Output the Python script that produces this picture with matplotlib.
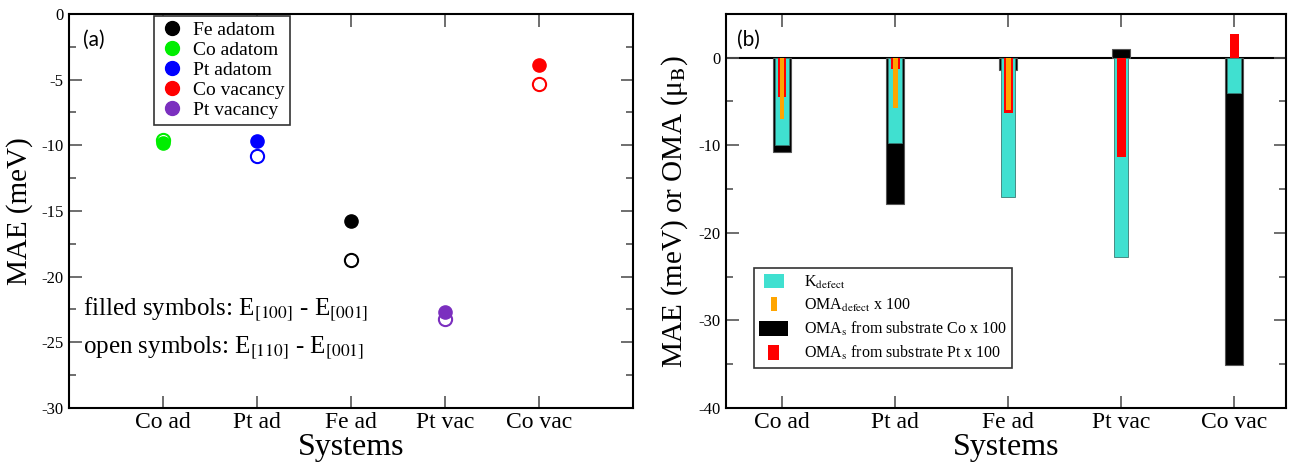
import matplotlib
matplotlib.use("Agg")
import matplotlib.pyplot as plt
import matplotlib.patches as mpatches
from matplotlib.lines import Line2D
from matplotlib.legend_handler import HandlerPatch
from matplotlib.ticker import MultipleLocator

plt.rcParams['font.family'] = ['Liberation Serif', 'DejaVu Serif']
plt.rcParams['mathtext.fontset'] = 'stix'
plt.rcParams['axes.unicode_minus'] = False

systems = ['Co ad', 'Pt ad', 'Fe ad', 'Pt vac', 'Co vac']
xpos = [1, 2, 3, 4, 5]

# (a) MAE, filled = E[100]-E[001], open = E[110]-E[001]
mae_100 = [-9.8, -9.7, -15.8, -22.7, -3.9]
mae_110 = [-9.6, -10.8, -18.7, -23.2, -5.35]
point_colors = ['#00ee00', '#0000ff', '#000000', '#7b2fbf', '#ff0000']

legend_names = ['Fe adatom', 'Co adatom', 'Pt adatom', 'Co vacancy', 'Pt vacancy']
legend_colors = ['#000000', '#00ee00', '#0000ff', '#ff0000', '#7b2fbf']

# (b) contributions
k_defect = [-10.0, -9.8, -15.9, -22.8, -4.0]
oma_defect = [-7.0, -5.8, -5.95, 0.0, 0.0]
oma_s_co = [-10.8, -16.7, -1.4, 1.0, -35.1]
oma_s_pt = [-4.5, -1.35, -6.3, -11.3, 2.7]

turq = '#40e0d0'
orange = '#ffa500'

fig = plt.figure(figsize=(12.89, 4.62), dpi=100)
ax1 = fig.add_axes([0.0535, 0.117, 0.4375, 0.853])
ax2 = fig.add_axes([0.563, 0.117, 0.435, 0.853])


def style_axes(ax):
    ax.tick_params(which='both', direction='in', top=True, right=True,
                   color='#555555', width=1.2)
    ax.tick_params(which='major', length=9)
    ax.tick_params(which='minor', length=5)
    ax.tick_params(axis='x', which='minor', top=False, bottom=False)
    ax.tick_params(axis='y', labelsize=12, pad=4)
    ax.tick_params(axis='x', labelsize=17, pad=3)
    for s in ax.spines.values():
        s.set_linewidth(1.5)


# panel a
for i in range(len(xpos)):
    ax1.plot(xpos[i], mae_110[i], 'o', ms=9.5, mfc='white', mec=point_colors[i], mew=1.5)
    ax1.plot(xpos[i], mae_100[i], 'o', ms=9.5, color=point_colors[i])

ax1.set_xlim(0, 6)
ax1.set_ylim(-30, 0)
ax1.set_xticks(xpos)
ax1.set_xticklabels(systems)
ax1.yaxis.set_major_locator(MultipleLocator(5))
ax1.yaxis.set_minor_locator(MultipleLocator(2.5))
style_axes(ax1)
ax1.set_xlabel('Systems', fontsize=23, labelpad=0)
ax1.set_ylabel('MAE (meV)', fontsize=21, labelpad=6)
ax1.text(0.025, 0.935, '(a)', transform=ax1.transAxes, fontsize=15,
         family=['Lato', 'DejaVu Sans'], va='center')
ax1.text(0.15, -22.9, r'filled symbols: E$_{[100]}$ - E$_{[001]}$', fontsize=18)
ax1.text(0.15, -25.8, r'open symbols: E$_{[110]}$ - E$_{[001]}$', fontsize=18)

handles_a = [Line2D([], [], ls='none', marker='o', ms=10, color=c) for c in legend_colors]
leg1 = ax1.legend(handles_a, legend_names, loc='upper left',
                  bbox_to_anchor=(0.151, 0.995), fontsize=14, frameon=True,
                  fancybox=False, edgecolor='#333333', framealpha=1,
                  handlelength=1.2, handletextpad=0.5, labelspacing=0.12,
                  borderpad=0.3, borderaxespad=0)
leg1.get_frame().set_linewidth(1.2)

# panel b
ax2.axhline(0, color='black', lw=1.5, zorder=1)
ax2.bar(xpos, oma_s_co, width=0.16, color='black', edgecolor='#555555', lw=0.8, zorder=2)
ax2.bar(xpos, k_defect, width=0.125, color=turq, edgecolor='#3a7a74', lw=0.6, zorder=3)
ax2.bar(xpos, oma_s_pt, width=0.075, color='#ff0000', lw=0, zorder=4)
ax2.bar(xpos, oma_defect, width=0.04, color=orange, lw=0, zorder=5)

ax2.set_xlim(0.5, 5.46)
ax2.set_ylim(-40, 5)
ax2.set_xticks(xpos)
ax2.set_xticklabels(systems)
ax2.yaxis.set_major_locator(MultipleLocator(10))
ax2.yaxis.set_minor_locator(MultipleLocator(5))
style_axes(ax2)
ax2.set_xlabel('Systems', fontsize=23, labelpad=0)
ax2.set_ylabel(r'MAE (meV) or OMA (μ$_{\mathrm{B}}$)', fontsize=21, labelpad=6)
ax2.text(0.02, 0.935, '(b)', transform=ax2.transAxes, fontsize=15,
         family=['Lato', 'DejaVu Sans'], va='center')


class SizedPatch(HandlerPatch):
    def __init__(self, wfrac, hfrac):
        self.wfrac = wfrac
        self.hfrac = hfrac
        super().__init__()

    def create_artists(self, legend, orig_handle, xdescent, ydescent,
                       width, height, fontsize, trans):
        w = width * self.wfrac
        h = height * self.hfrac
        p = mpatches.Rectangle((-xdescent + (width - w) / 2, -ydescent + (height - h) / 2),
                               w, h, facecolor=orig_handle.get_facecolor(), lw=0)
        p.set_transform(trans)
        return [p]


hb = [mpatches.Patch(color=turq), mpatches.Patch(color=orange),
      mpatches.Patch(color='black'), mpatches.Patch(color='#ff0000')]
labels_b = [r'K$_{\mathrm{defect}}$', r'OMA$_{\mathrm{defect}}$ x 100',
            r'OMA$_{\mathrm{s}}$ from substrate Co x 100',
            r'OMA$_{\mathrm{s}}$ from substrate Pt x 100']
hmap = {hb[0]: SizedPatch(0.7, 1.3), hb[1]: SizedPatch(0.22, 1.3),
        hb[2]: SizedPatch(1.0, 1.3), hb[3]: SizedPatch(0.4, 1.3)}
leg2 = ax2.legend(hb, labels_b, handler_map=hmap, loc='upper left',
                  bbox_to_anchor=(0.05, 0.355), fontsize=11.5, frameon=True,
                  fancybox=False, edgecolor='#333333', framealpha=1,
                  handlelength=1.8, handletextpad=1.0, labelspacing=0.38,
                  borderpad=0.35, borderaxespad=0)
leg2.get_frame().set_linewidth(1.2)

fig.savefig('out.png', dpi=100)
